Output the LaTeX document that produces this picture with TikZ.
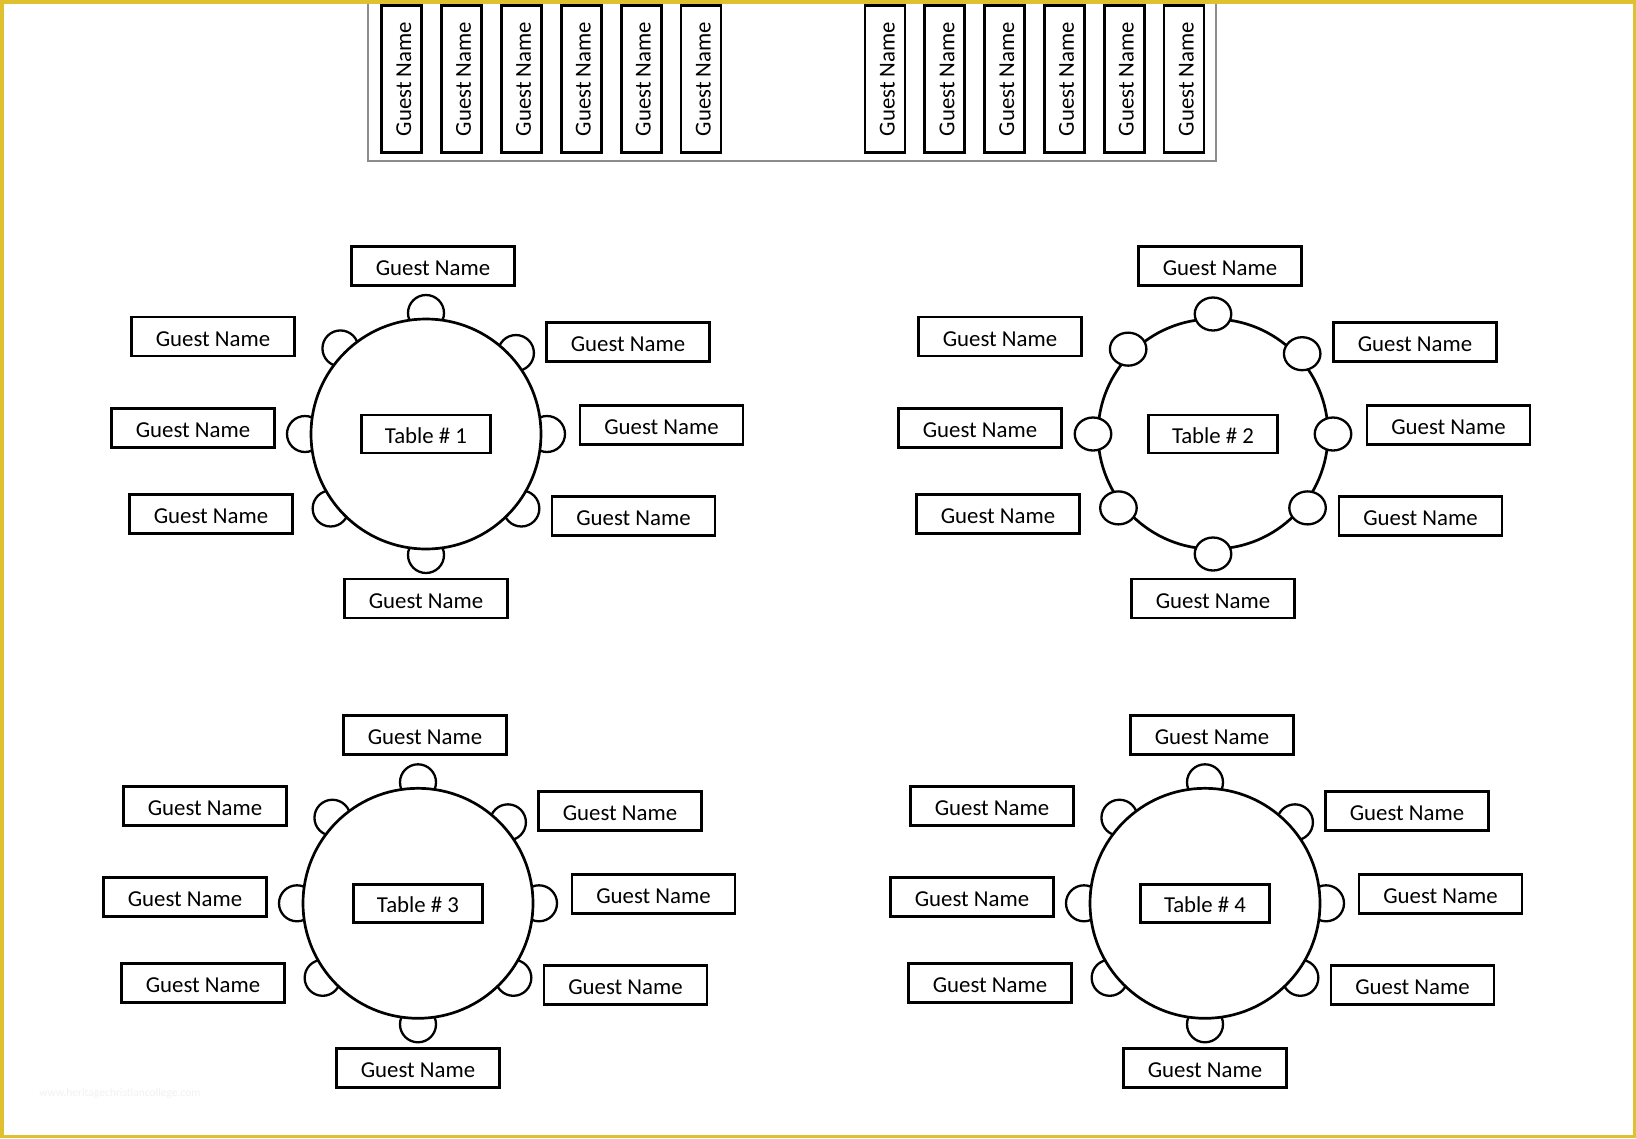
\documentclass[tikz,border=0pt]{standalone}
\usepackage{fontspec}
\setmainfont{Carlito}
\usetikzlibrary{calc,shapes.geometric}
\definecolor{frameyellow}{RGB}{222,192,48}
\definecolor{headgray}{RGB}{140,140,140}
\newcommand{\guestring}[1]{%
  \node[guest] (#1g1) at ($(#1)+(7,-168)$) {Guest Name};
  \node[guest] (#1g2) at ($(#1)+(-213,-97.5)$) {Guest Name};
  \node[guest] (#1g3) at ($(#1)+(-233,-6)$) {Guest Name};
  \node[guest] (#1g4) at ($(#1)+(-215,80)$) {Guest Name};
  \node[guest] (#1g5) at ($(#1)+(0,164.5)$) {Guest Name};
  \node[guest] (#1g6) at ($(#1)+(202,-92.3)$) {Guest Name};
  \node[guest] (#1g7) at ($(#1)+(235.5,-9)$) {Guest Name};
  \node[guest] (#1g8) at ($(#1)+(207.5,82)$) {Guest Name};
}
\newcommand{\halfchairtable}[2]{%
  \foreach \a [count=\i] in {90,135,42,180,0,218,322,270}
    {\node[halfchair] (#1c\i) at ($(#1)+(\a:121pt)$) {};}
  \node[roundtable] (#1t) at (#1) {};
  \node[tablelabel] (#1l) at (#1) {Table \# #2};
  \guestring{#1}
}
\newcommand{\fullchairtable}[2]{%
  \node[roundtable] (#1t) at (#1) {};
  \foreach \a [count=\i] in {90,135,42,180,0,218,322,270}
    {\node[fullchair] (#1c\i) at ($(#1)+(\a:120pt)$) {};}
  \node[tablelabel] (#1l) at (#1) {Table \# #2};
  \guestring{#1}
}
\begin{document}
\begin{tikzpicture}[x=1pt,y=-1pt,
  txt/.style={font=\fontsize{22.8}{27}\selectfont, text height=19pt, text depth=0pt},
  guest/.style={txt, draw, fill=white, line width=2.9pt, minimum width=163pt, minimum height=39pt, inner sep=0pt},
  vguest/.style={txt, draw, fill=white, line width=2.9pt, minimum width=147pt, minimum height=40pt, inner sep=0pt, rotate=90},
  tablelabel/.style={txt, draw, fill=white, line width=2.9pt, minimum width=129pt, minimum height=38pt, inner sep=0pt},
  roundtable/.style={circle, draw, fill=white, line width=2.7pt, minimum size=230pt, inner sep=0pt},
  halfchair/.style={circle, draw, fill=white, line width=2.3pt, minimum size=36pt, inner sep=0pt},
  fullchair/.style={ellipse, draw, fill=white, line width=2.3pt, minimum width=36.5pt, minimum height=33pt, inner sep=0pt}]
\useasboundingbox (0,0) rectangle (1636,1138);
\fill[white] (0,0) rectangle (1636,1138);

% head table
\draw[headgray, line width=2.2pt] (368,-10) rectangle (1216,161);
\foreach \x [count=\i] in {401.5,461.4,521.3,581.2,641.1,701}
  {\node[vguest] (hl\i) at (\x,79) {Guest Name};}
\foreach \x [count=\i] in {885,944.8,1004.6,1064.4,1124.2,1184}
  {\node[vguest] (hr\i) at (\x,79) {Guest Name};}

% round tables
\coordinate (ta) at (426,434);
\coordinate (tb) at (1213,434);
\coordinate (tc) at (418,903.3);
\coordinate (td) at (1205,903.3);
\halfchairtable{ta}{1}
\fullchairtable{tb}{2}
\halfchairtable{tc}{3}
\halfchairtable{td}{4}

% watermark
\node[text=black!5, font=\fontsize{11.5}{13}\selectfont] (wm) at (120,1093) {www.heritagechristiancollege.com};

% frame
\draw[frameyellow, line width=3.5pt] (1.75,1.75) rectangle (1634.25,1136.25);
\end{tikzpicture}
\end{document}
